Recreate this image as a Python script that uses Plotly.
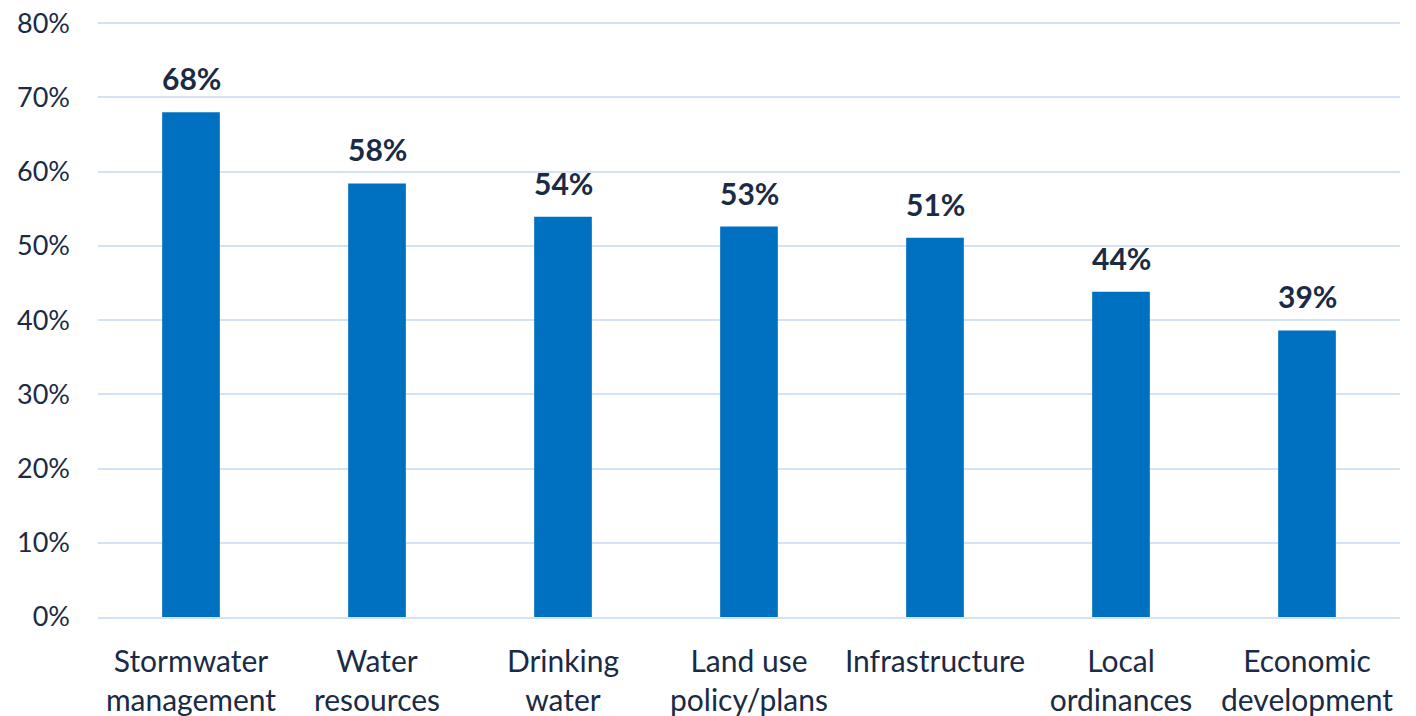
import plotly.graph_objects as go

categories = ["Stormwater<br>management", "Water<br>resources", "Drinking<br>water",
              "Land use<br>policy/plans", "Infrastructure", "Local<br>ordinances",
              "Economic<br>development"]
values = [68.0, 58.4, 53.9, 52.6, 51.1, 43.8, 38.6]
tick_vals = [0, 10, 20, 30, 40, 50, 60, 70, 80]
tick_text = [f"{v}%" for v in tick_vals]

text_color = "#1A2B45"
bar_color = "#0070C0"
grid_color = "#D3E3F3"
font_family = "Lato, 'Noto Sans', sans-serif"

fig = go.Figure(go.Bar(
    x=categories,
    y=values,
    marker=dict(color=bar_color, line=dict(width=0)),
    cliponaxis=False,
))

for c, v in zip(categories, values):
    fig.add_annotation(
        x=c, y=v, text=f"<b>{round(v):d}%</b>",
        showarrow=False, yanchor="bottom", yshift=14,
        font=dict(size=30, color=text_color, family=font_family),
    )

fig.update_layout(
    width=1416, height=716,
    margin=dict(l=98, r=16, t=22, b=99, autoexpand=False),
    paper_bgcolor="white", plot_bgcolor="white",
    bargap=0.69,
    showlegend=False,
    font=dict(family=font_family, size=28, color=text_color),
)
fig.update_yaxes(
    range=[0, 80.15], tickvals=tick_vals, ticktext=tick_text,
    showgrid=True, gridcolor=grid_color, gridwidth=2,
    zeroline=False, showline=False, ticks="",
    automargin=False,
    ticklabelstandoff=27,
    tickfont=dict(size=27, color=text_color),
)
fig.update_xaxes(
    showline=True, linecolor=grid_color, linewidth=2,
    ticks="", ticklabelstandoff=17, automargin=False,
    tickfont=dict(size=30, color=text_color),
)

fig.write_html("out.html",
               config={"displayModeBar": False},
               post_script="document.body.style.margin='0';document.body.style.overflow='hidden';")
